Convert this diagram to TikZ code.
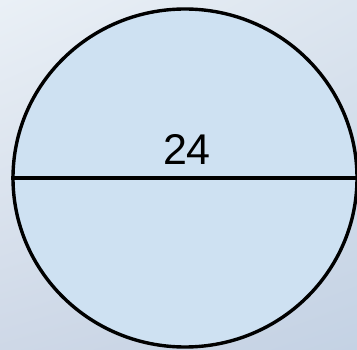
\documentclass[tikz,border=0pt]{standalone}
\usepackage{fontspec}
\setmainfont{Liberation Sans}
\usetikzlibrary{shapes.geometric,shadings}
\definecolor{discfill}{RGB}{206,225,242}
\definecolor{bgul}{RGB}{234,240,246}
\definecolor{bgur}{RGB}{220,229,239}
\definecolor{bgll}{RGB}{206,216,231}
\definecolor{bglr}{RGB}{196,210,228}
\begin{document}
\begin{tikzpicture}[x=1pt,y=-1pt]
  \tikzset{disc/.style={draw,ellipse,line width=3.4pt,fill=discfill,minimum width=344pt,minimum height=338pt,inner sep=0pt}}
  \useasboundingbox (0,0) rectangle (357,350);
  \shade[upper left=bgul,upper right=bgur,lower left=bgll,lower right=bglr] (0,0) rectangle (357,350);
  \node[disc] (d) at (185,178) {};
  \node[font=\fontsize{43}{43}\selectfont,anchor=base] (lbl) at (187,165) {24};
  \draw[line width=3.4pt] (d.west) -- (d.east);
\end{tikzpicture}
\end{document}
